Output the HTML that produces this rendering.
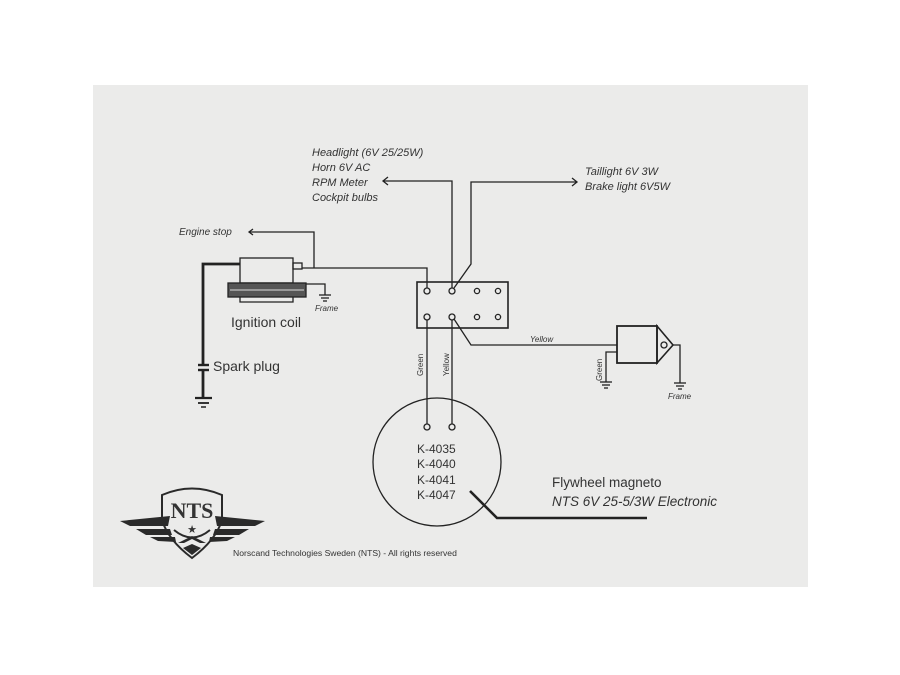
<!DOCTYPE html>
<html><head><meta charset="utf-8"><style>
html,body{margin:0;padding:0;background:#fff;}
svg{display:block;}
text{font-family:"Liberation Sans",sans-serif;fill:#333;}
.i{font-style:italic;}
</style></head><body>
<svg width="900" height="675" viewBox="0 0 900 675" xmlns="http://www.w3.org/2000/svg">
<rect x="0" y="0" width="900" height="675" fill="#ffffff"/>
<rect x="93" y="85" width="715" height="502" fill="#ebebea"/>
<g stroke="#222" fill="none" stroke-width="1.3">
<rect x="417" y="282" width="91" height="46" stroke-width="1.6"/>
<circle cx="427" cy="291" r="3"/><circle cx="452" cy="291" r="3"/><circle cx="477" cy="291" r="2.6"/><circle cx="498" cy="291" r="2.6"/>
<circle cx="427" cy="317" r="3"/><circle cx="452" cy="317" r="3"/><circle cx="477" cy="317" r="2.6"/><circle cx="498" cy="317" r="2.6"/>
<polyline points="452,288 452,181 383,181"/>
<polyline points="388,177 383,181 388,185"/>
<polyline points="454,288 471,264 471,182 577,182"/>
<polyline points="572,178 577,182 572,186"/>
<rect x="240" y="258" width="53" height="25"/>
<rect x="228" y="283" width="78" height="14" fill="#555" stroke="#222"/>
<line x1="230" y1="290" x2="304" y2="290" stroke="#999" stroke-width="2"/>
<polyline points="240,297 240,302 293,302 293,297"/>
<rect x="293" y="263" width="9" height="6"/>
<polyline points="302,268 427,268 427,288"/>
<polyline points="314,268 314,232 249,232"/>
<polyline points="253,229 249,232 253,235"/>
<polyline points="306,284 325,284 325,295"/>
<line x1="319" y1="295" x2="331" y2="295"/><line x1="321" y1="298" x2="329" y2="298"/><line x1="323" y1="301" x2="327" y2="301"/>
<polyline points="240,264 203,264 203,365" stroke-width="2.8"/>
<line x1="198" y1="365" x2="209" y2="365" stroke-width="2.4"/>
<line x1="198" y1="370" x2="209" y2="370" stroke-width="2.4"/>
<line x1="203" y1="370" x2="203" y2="398" stroke-width="2.8"/>
<line x1="195" y1="398" x2="212" y2="398" stroke-width="2.2"/>
<line x1="198" y1="403" x2="209" y2="403" stroke-width="1.8"/>
<line x1="201" y1="407" x2="206" y2="407" stroke-width="1.5"/>
<polyline points="454,319 471,345 617,345"/>
<rect x="617" y="326" width="40" height="37" stroke-width="1.8"/>
<polygon points="657,326 673,345 657,363" stroke-width="1.6"/>
<circle cx="664" cy="345" r="3"/>
<polyline points="673,345 680,345 680,383"/>
<line x1="674" y1="383" x2="686" y2="383"/><line x1="676" y1="386" x2="684" y2="386"/><line x1="678" y1="389" x2="682" y2="389"/>
<polyline points="617,352 606,352 606,382"/>
<line x1="600" y1="382" x2="612" y2="382"/><line x1="602" y1="385" x2="610" y2="385"/><line x1="604" y1="388" x2="608" y2="388"/>
<line x1="427" y1="320" x2="427" y2="424"/>
<line x1="452" y1="320" x2="452" y2="424"/>
<circle cx="427" cy="427" r="3"/><circle cx="452" cy="427" r="3"/>
<circle cx="437" cy="462" r="64"/>
<polyline points="470,491 497,518 647,518" stroke-width="2.6"/>
</g>
<text x="312" y="156" font-size="11" class="i">Headlight (6V 25/25W)</text>
<text x="312" y="171" font-size="11" class="i">Horn 6V AC</text>
<text x="312" y="186" font-size="11" class="i">RPM Meter</text>
<text x="312" y="201" font-size="11" class="i">Cockpit bulbs</text>
<text x="585" y="175" font-size="11" class="i">Taillight 6V 3W</text>
<text x="585" y="190" font-size="11" class="i">Brake light 6V5W</text>
<text x="179" y="235" font-size="10" class="i">Engine stop</text>
<text x="315" y="311" font-size="8" class="i">Frame</text>
<text x="231" y="327" font-size="14">Ignition coil</text>
<text x="213" y="371" font-size="14">Spark plug</text>
<text x="530" y="342" font-size="8" class="i">Yellow</text>
<text x="668" y="399" font-size="8" class="i">Frame</text>
<text transform="translate(423,376) rotate(-90)" font-size="8">Green</text>
<text transform="translate(449,376) rotate(-90)" font-size="8">Yellow</text>
<text transform="translate(602,381) rotate(-90)" font-size="8">Green</text>
<text x="417" y="453" font-size="12">K-4035</text>
<text x="417" y="468" font-size="12">K-4040</text>
<text x="417" y="484" font-size="12">K-4041</text>
<text x="417" y="499" font-size="12">K-4047</text>
<text x="552" y="487" font-size="13.5">Flywheel magneto</text>
<text x="552" y="506" font-size="13.5" class="i">NTS 6V 25-5/3W Electronic</text>
<text x="233" y="556" font-size="8.6" fill="#555">Norscand Technologies Sweden (NTS) - All rights reserved</text>
<g fill="#2a2a2a">
<path d="M120,521 L170,516 L168,526 L130,526 Z"/>
<path d="M136,529 L170,529 L172,535 L146,535 Z"/>
<path d="M150,537 L175,537 L176,542 L158,541 Z"/>
<path d="M265,521 L215,516 L217,526 L255,526 Z"/>
<path d="M249,529 L215,529 L213,535 L239,535 Z"/>
<path d="M235,537 L210,537 L209,542 L227,541 Z"/>
<path d="M178,543 L192,536 L206,543 L200,543 L192,539 L184,543 Z"/>
<path d="M183,548 L192,544 L201,548 L192,555 Z"/>
</g>
<g fill="none" stroke="#2a2a2a" stroke-width="2">
<path d="M162,495 Q192,482 222,495 L222,520 Q216,540 192,558 Q168,540 162,520 Z"/>
<path d="M174,530 Q192,545 210,530"/>
</g>
<text x="192" y="518" font-size="22" font-weight="bold" text-anchor="middle" style="font-family:'Liberation Serif',serif" fill="#2a2a2a">NTS</text>
<text x="192" y="533" font-size="11" text-anchor="middle" fill="#2a2a2a">★</text>
</svg>
</body></html>
